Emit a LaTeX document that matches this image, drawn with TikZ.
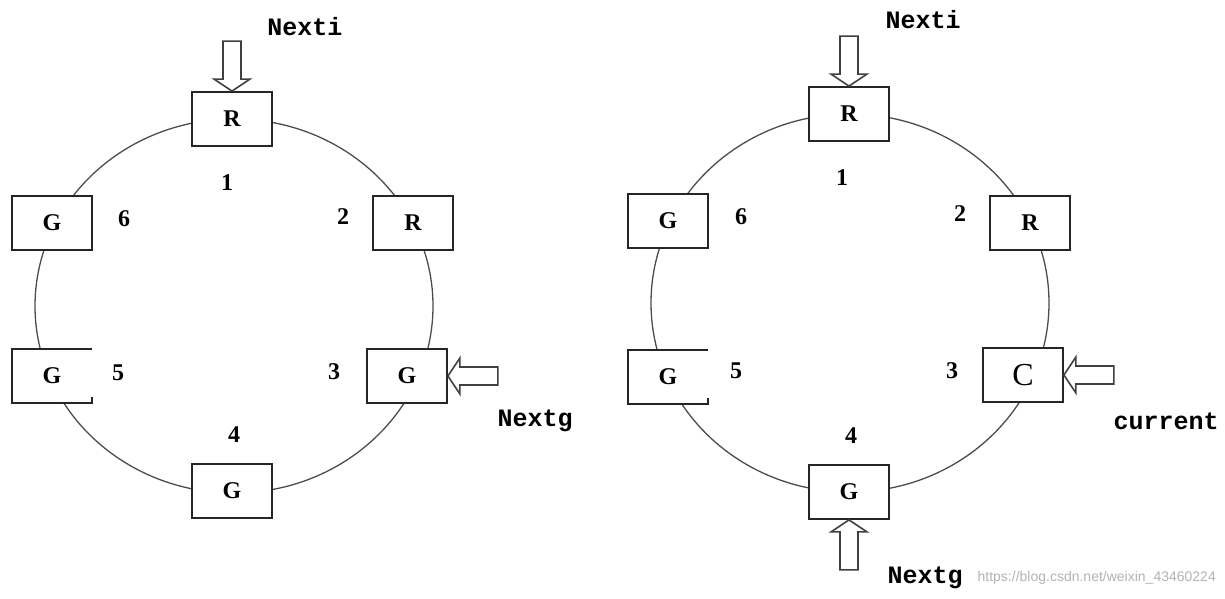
\documentclass[tikz,border=0pt]{standalone}
\usepackage{fontspec}
\setmainfont{Liberation Serif}
\setmonofont{Liberation Mono}
\newfontfamily\wmfont{Liberation Sans}
\begin{document}
\begin{tikzpicture}[x=1pt,y=-1pt,
  ring/.style={draw=black!70, line width=1.3pt},
  box/.style={draw=black!85, line width=1.8pt, fill=white, minimum width=80pt, minimum height=54pt, inner sep=0pt, font=\bfseries\fontsize{24}{24}\selectfont},
  openbox/.style={fill=white, minimum width=80pt, minimum height=54pt, inner sep=0pt, font=\bfseries\fontsize{24}{24}\selectfont},
  num/.style={font=\bfseries\fontsize{24}{24}\selectfont, inner sep=0pt},
  tag/.style={font=\ttfamily\bfseries\fontsize{25}{25}\selectfont, inner sep=0pt},
  barrow/.style={draw=black!75, line width=1.6pt, fill=white, line join=miter},
  barr/.pic={\draw[barrow] (0,0) -- (-12,-18) -- (-12,-9) -- (-50,-9) -- (-50,9) -- (-12,9) -- (-12,18) -- cycle;}
]
\useasboundingbox (0,0) rectangle (1225,598);
% ---------- left diagram ----------
\draw[ring] (234,306) ellipse [x radius=199, y radius=187];
\node[box] (a1) at (232,119) {R};
\node[box] (a2) at (413,223) {R};
\node[box] (a3) at (407,376) {G};
\node[box] (a4) at (232,491) {G};
\node[openbox] (a5) at (52,376) {G};
\draw[draw=black!85, line width=1.8pt] (a5.north east) -- (a5.north west) -- (a5.south west) -- (a5.south east) -- ++(0,-6);
\node[box] (a6) at (52,223) {G};
\node[num] (n1) at (227,183) {1};
\node[num] (n2) at (343,217) {2};
\node[num] (n3) at (334,372) {3};
\node[num] (n4) at (234,435) {4};
\node[num] (n5) at (118,373) {5};
\node[num] (n6) at (124,219) {6};
\node[tag] (ti) at (305,27) {Nexti};
\node[tag] (tg) at (535,421) {Nextg};
\pic[rotate=-90] at (a1.north) {barr};
\pic[rotate=180] at (a3.east) {barr};
% ---------- right diagram ----------
\draw[ring] (850,303) ellipse [x radius=199, y radius=189];
\node[box] (b1) at (849,114) {R};
\node[box] (b2) at (1030,223) {R};
\node[box, font=\fontsize{32}{32}\selectfont] (b3) at (1023,375) {C};
\node[box] (b4) at (849,492) {G};
\node[openbox] (b5) at (668,377) {G};
\draw[draw=black!85, line width=1.8pt] (b5.north east) -- (b5.north west) -- (b5.south west) -- (b5.south east) -- ++(0,-6);
\node[box] (b6) at (668,221) {G};
\node[num] (m1) at (842,178) {1};
\node[num] (m2) at (960,214) {2};
\node[num] (m3) at (952,371) {3};
\node[num] (m4) at (851,436) {4};
\node[num] (m5) at (736,371) {5};
\node[num] (m6) at (741,217) {6};
\node[tag] (si) at (923,20) {Nexti};
\node[tag] (sg) at (925,578) {Nextg};
\node[font=\wmfont\fontsize{14}{14}\selectfont, text=black!30, anchor=east, inner sep=0pt] (wm) at (1216,578) {https://blog.csdn.net/weixin\_43460224};
\node[tag] (sc) at (1166,421) {current};
\pic[rotate=-90] at (b1.north) {barr};
\pic[rotate=180] at (b3.east) {barr};
\pic[rotate=90] at (b4.south) {barr};
\end{tikzpicture}
\end{document}
